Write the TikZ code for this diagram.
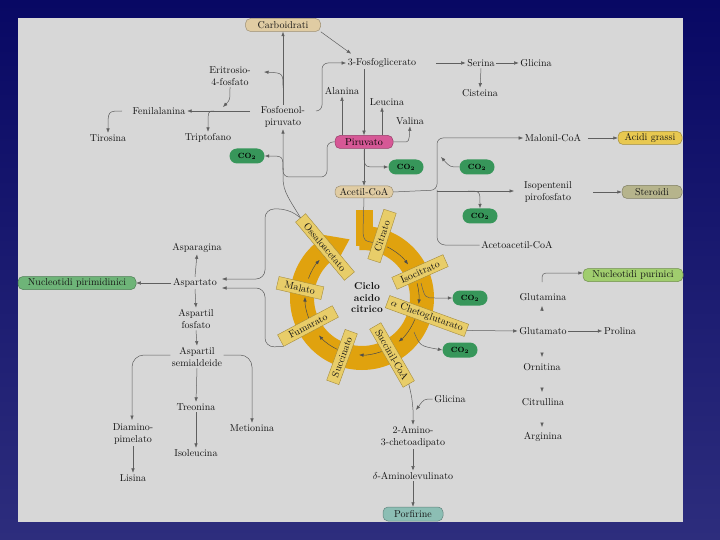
\documentclass[tikz,border=0pt]{standalone}
\usepackage{tikz}
\usetikzlibrary{arrows.meta,shapes.misc,calc}
\definecolor{navytop}{RGB}{8,8,100}
\definecolor{navybot}{RGB}{45,45,125}
\definecolor{panel}{RGB}{215,215,215}
\definecolor{lineg}{RGB}{95,95,95}
\definecolor{txt}{RGB}{20,20,20}
\definecolor{tanf}{RGB}{224,204,163}
\definecolor{pinkf}{RGB}{214,88,150}
\definecolor{co2f}{RGB}{55,150,90}
\definecolor{yelf}{RGB}{232,200,80}
\definecolor{olivef}{RGB}{182,180,140}
\definecolor{greenf}{RGB}{110,180,120}
\definecolor{lgreenf}{RGB}{160,205,110}
\definecolor{tealf}{RGB}{140,190,180}
\definecolor{ringf}{RGB}{224,162,14}
\definecolor{labf}{RGB}{232,205,105}
\definecolor{labd}{RGB}{165,140,60}
\tikzset{
 lbl/.style={font=\fontsize{10}{12}\selectfont, text=txt, inner sep=1.5pt, align=center},
 rbox/.style={lbl, rounded corners=5pt, draw=#1!70!black, fill=#1, minimum height=13pt, line width=0.5pt},
 co2/.style={rounded rectangle, fill=co2f, minimum width=35pt, minimum height=15pt, inner sep=0pt, font=\fontsize{7.5}{8}\selectfont\bfseries, text=black},
 cbox/.style={lbl, draw=labd, fill=labf, minimum height=13pt, line width=0.4pt, inner xsep=3pt},
 conn/.style={draw=lineg, line width=0.5pt, -{Latex[length=4.5pt,width=3.5pt]}},
 wire/.style={draw=lineg, line width=0.5pt},
 tk/.style={draw=black!70, line width=0.5pt, -{Latex[length=4.5pt,width=3.5pt]}},
}
\begin{document}
\begin{tikzpicture}[x=1pt,y=-1pt]
\useasboundingbox (0,0) rectangle (720,540);
\shade[top color=navytop,bottom color=navybot] (0,0) rectangle (720,540);
\fill[panel] (18,18) rectangle (683,522);
\coordinate (C) at (362,298);

% ---------- text nodes ----------
\node[rbox=tanf, minimum width=75pt] (carbo) at (283,25) {Carboidrati};
\node[lbl] (fgl) at (382,63) {3-Fosfoglicerato};
\node[lbl] (ser) at (481,63) {Serina};
\node[lbl] (gly1) at (536,63) {Glicina};
\node[lbl] (cys) at (480,93) {Cisteina};
\node[lbl] (ala) at (342,91) {Alanina};
\node[lbl] (leu) at (387,102) {Leucina};
\node[lbl] (val) at (410,121) {Valina};
\node[rbox=pinkf, minimum width=58pt, text=black] (pyr) at (364,142) {Piruvato};
\node[lbl] (pep) at (283,117) {Fosfoenol-\\piruvato};
\node[lbl] (ery) at (230,76) {Eritrosio-\\4-fosfato};
\node[lbl] (phe) at (159,111) {Fenilalanina};
\node[lbl] (tyr) at (108,138) {Tirosina};
\node[lbl] (trp) at (208,138) {Triptofano};
\node[co2] (co2a) at (247,156) {CO\textsubscript{2}};
\node[co2] (co2b) at (406,167) {CO\textsubscript{2}};
\node[co2] (co2c) at (477,167) {CO\textsubscript{2}};
\node[co2] (co2d) at (480,216) {CO\textsubscript{2}};
\node[co2] (co2e) at (470,298) {CO\textsubscript{2}};
\node[co2] (co2f) at (460,350) {CO\textsubscript{2}};
\node[rbox=tanf, minimum width=58pt, minimum height=12pt] (acoa) at (364,192) {Acetil-CoA};
\node[lbl] (malo) at (553,138) {Malonil-CoA};
\node[rbox=yelf, minimum width=64pt] (acidi) at (650,138) {Acidi grassi};
\node[lbl] (ipp) at (548,192) {Isopentenil\\pirofosfato};
\node[rbox=olivef, minimum width=60pt] (ster) at (652,192) {Steroidi};
\node[lbl] (acac) at (517,245) {Acetoacetil-CoA};
\node[lbl] (asn) at (197,248) {Asparagina};
\node[lbl] (asp) at (195,283) {Aspartato};
\node[rbox=greenf, minimum width=118pt] (nucpir) at (77,283) {Nucleotidi pirimidinici};
\node[lbl] (aspp) at (196,319) {Aspartil\\fosfato};
\node[lbl] (asps) at (197,357) {Aspartil\\semialdeide};
\node[lbl] (dap) at (133,434) {Diamino-\\pimelato};
\node[lbl] (thr) at (196,407) {Treonina};
\node[lbl] (met) at (252,428) {Metionina};
\node[lbl] (ile) at (196,453) {Isoleucina};
\node[lbl] (lys) at (133,478) {Lisina};
\node[lbl] (gly2) at (450,399) {Glicina};
\node[lbl] (amino) at (413,437) {2-Amino-\\3-chetoadipato};
\node[lbl] (dala) at (413,476) {$\delta$-Aminolevulinato};
\node[rbox=tealf, minimum width=60pt, minimum height=14pt] (porf) at (413,514) {Porfirine};
\node[lbl] (gln) at (543,297) {Glutamina};
\node[lbl] (glu) at (543,331) {Glutamato};
\node[lbl] (pro) at (620,331) {Prolina};
\node[lbl] (orn) at (542,367) {Ornitina};
\node[lbl] (cit2) at (543,402) {Citrullina};
\node[lbl] (arg) at (543,437) {Arginina};
\node[rbox=lgreenf, minimum width=100pt] (nucpur) at (633,275) {Nucleotidi purinici};

% ---------- ring ----------
\fill[ringf] ($(C)+(-93:72)$) arc[start angle=-93, end angle=238, radius=72]
   -- ($(C)+(238:48)$) arc[start angle=238, end angle=-93, radius=48] -- cycle;
\fill[ringf] ($(C)+(236:44)$) -- ($(C)+(258:60)$) -- ($(C)+(236:77)$) -- cycle;
\fill[ringf] (356,210) rectangle (373,246);
\foreach \a/\b in {-64/-36, -15/6, 22/50, 70/93, 115/139, 158/181, 200/222}
  \draw[tk] ($(C)+(\a:57)$) arc[start angle=\a, end angle=\b, radius=57];
\draw[wire] (acoa.south) -- (363,232) .. controls (364,241) .. (376,243);
\node[font=\fontsize{10}{11.5}\selectfont\bfseries, align=center, text=txt] (ciclo) at (367,298) {Ciclo\\acido\\citrico};

\node[cbox, rotate=72, minimum width=52pt] (citr) at (382,236) {Citrato};
\node[cbox, rotate=24, minimum width=56pt] (icit) at (420,272) {Isocitrato};
\node[cbox, rotate=-20, minimum width=84pt] (akg) at (427,316) {$\alpha$ Chetoglutarato};
\node[cbox, rotate=-60, minimum width=67pt] (succ) at (392,355) {Succinil-CoA};
\node[cbox, rotate=70, minimum width=54pt] (suc) at (342,357) {Succinato};
\node[cbox, rotate=28, minimum width=62pt] (fum) at (308,326) {Fumarato};
\node[cbox, rotate=-13, minimum width=46pt] (mlt) at (300,288) {Malato};
\node[cbox, rotate=-50, minimum width=76pt] (oaa) at (325,247) {Ossaloacetato};

% ---------- connectors ----------
\draw[conn] (carbo.south east) -- ([xshift=5pt,yshift=3pt]fgl.north west);
\draw[conn] ([xshift=18pt]fgl.east) -- (ser.west);
\draw[conn] (ser.east) -- (gly1.west);
\draw[conn] (ser.south) -- (cys.north);
\draw[conn] (fgl.south -| pyr.north) -- (pyr.north);
\draw[conn] (pyr.north -| ala.south) -- (ala.south);
\coordinate (leuB) at ([xshift=-5pt]leu.south);
\draw[conn] (pyr.north -| leuB) -- (leuB);
\draw[conn] (pyr.east) -- (403,142) .. controls (409,142) .. (val.south);
\draw[conn, rounded corners=6] (316,111) -- (322,111) -- (322,63) -- (fgl.west);
\draw[conn] (pep.north) -- (carbo.south);
\draw[conn] (283,88) .. controls (283,73) .. (264,72);
\draw[conn] (ery.south) .. controls (230,100) .. (223,107);
\draw[conn] (250,111) -- (phe.east);
\draw[conn] (214,111) .. controls (208,111) .. (trp.north);
\draw[conn] (122,111) .. controls (108,111) .. (tyr.north);
\draw[wire, rounded corners=6] (pyr.west) -- (327,142) -- (327,177) -- (283,177) -- (283,168);
\draw[conn] (oaa.west) .. controls (290,200) and (283,192) .. (283,178) -- (pep.south);
\draw[conn] (283,170) .. controls (283,156) .. (co2a.east);
\draw[conn] (pyr.south) -- (acoa.north);
\draw[conn] (364,150) .. controls (364,167) .. (376,167) -- (co2b.west);
\draw[conn, rounded corners=6] (acoa.east) -- (437,190) -- (437,138) -- (malo.west);
\draw[conn] (437,191) -- (514,191);
\draw[wire, rounded corners=8] (437,190) -- (437,245) -- (acac.west);
\draw[conn] (468,191) .. controls (480,191) .. (co2d.north);
\draw[conn] (co2c.west) .. controls (450,167) .. (441,157);
\draw[conn] ([xshift=5pt]malo.east) -- (acidi.west);
\draw[conn] (593,192) -- (ster.west);

\draw[conn] (421,283) .. controls (425,298) .. (435,298) -- (co2e.west);
\draw[conn] (414,332) .. controls (420,346) .. (co2f.west);
\draw[conn] (akg.east) -- (glu.west);
\draw[conn] (glu.east) -- (pro.west);
\draw[conn] (542,310.5) -- (542,306);
\draw[conn] (542,352.5) -- (542,357);
\draw[conn] (542,387.5) -- (542,392);
\draw[conn] (542,422.5) -- (542,427);
\draw[conn] (542,282) .. controls (542,273) .. (551,273) -- (nucpur.west |- 0,273);

\draw[conn, rounded corners=9] (oaa.west) -- (288,209) -- (265,209) -- (265,279) -- (222,279);
\draw[conn, rounded corners=9] (fum.south west) -- (265,347) -- (265,288) -- (222,288);
\draw[conn] (asp.west) -- (nucpir.east);
\draw[conn] (asp.north) -- (asn.south);
\draw[conn] (asp.south) -- (aspp.north);
\draw[conn] (aspp.south) -- (asps.north);
\draw[conn, rounded corners=12] (asps.west |- 0,355) -- (132,355) -- (132,420);
\draw[conn, rounded corners=12] (asps.east |- 0,355) -- (252,355) -- (met.north);
\draw[conn] (asps.south) -- (thr.north);
\draw[conn] (thr.south) -- (ile.north);
\draw[conn] (dap.south) -- (lys.north);

\draw[conn] (succ.east) .. controls (412,398) .. (413,410) -- (amino.north);
\draw[conn] (gly2.west) .. controls (424,399) .. (416,410);
\draw[conn] (amino.south) -- (dala.north);
\draw[conn] (dala.south) -- (porf.north);
\end{tikzpicture}
\end{document}
